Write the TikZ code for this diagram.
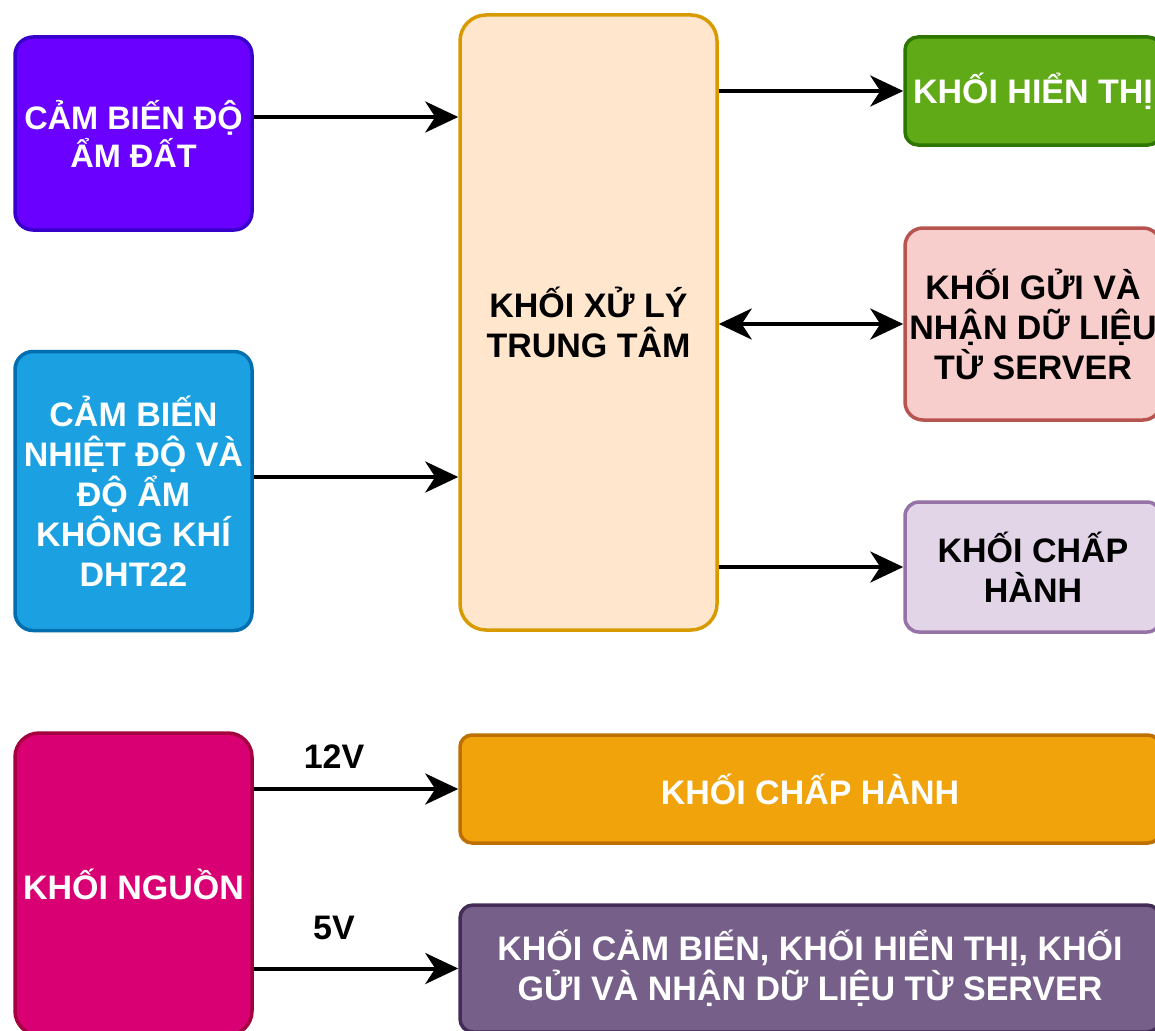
\documentclass[tikz,border=0pt]{standalone}
\usepackage{fontspec}
\setmainfont{Liberation Sans}
\usetikzlibrary{arrows.meta}

\definecolor{soilF}{HTML}{6A00FF}\definecolor{soilD}{HTML}{3700CC}
\definecolor{dhtF}{HTML}{1BA1E2}\definecolor{dhtD}{HTML}{006EAF}
\definecolor{cpuF}{HTML}{FFE6CC}\definecolor{cpuD}{HTML}{D79B00}
\definecolor{dispF}{HTML}{60A917}\definecolor{dispD}{HTML}{2D7600}
\definecolor{srvF}{HTML}{F8CECC}\definecolor{srvD}{HTML}{B85450}
\definecolor{actF}{HTML}{E1D5E7}\definecolor{actD}{HTML}{9673A6}
\definecolor{pwrF}{HTML}{D80073}\definecolor{pwrD}{HTML}{A50040}
\definecolor{orgF}{HTML}{F0A30A}\definecolor{orgD}{HTML}{BD7000}
\definecolor{plmF}{HTML}{76608A}\definecolor{plmD}{HTML}{432D57}

\tikzset{
  block/.style={draw, line width=3.5pt, rounded corners=18pt, align=center,
    inner sep=0pt, font=\fontsize{34}{40}\selectfont\bfseries},
  wtext/.style={text=white},
  btext/.style={text=black},
  arr/.style={line width=4pt, -{Stealth[length=33pt, width=31pt, inset=10pt]}},
  biarr/.style={line width=4pt, {Stealth[length=33pt, width=31pt, inset=10pt]}-{Stealth[length=33pt, width=31pt, inset=10pt]}},
  volt/.style={font=\fontsize{34}{40}\selectfont\bfseries, inner sep=0pt}
}

\begin{document}
\begin{tikzpicture}[x=1pt, y=-1pt]
  \path[use as bounding box, fill=white] (0,0) rectangle (1155,1030);
  \clip (0,0) rectangle (1155,1030);

  % inputs
  \node[block, wtext, fill=soilF, draw=soilD, minimum width=237pt, minimum height=193pt,
        font=\fontsize{32.5}{38}\selectfont\bfseries]
    (soil) at (133.5,133.5) {CẢM BIẾN ĐỘ\\ẨM ĐẤT};
  \node[block, wtext, fill=dhtF, draw=dhtD, minimum width=237pt, minimum height=279pt]
    (dht) at (133.5,491) {CẢM BIẾN\\NHIỆT ĐỘ VÀ\\ĐỘ ẨM\\KHÔNG KHÍ\\DHT22};

  % controller
  \node[block, btext, fill=cpuF, draw=cpuD, rounded corners=26pt, minimum width=257pt, minimum height=615pt]
    (cpu) at (588.5,322.5) {KHỐI XỬ LÝ\\TRUNG TÂM};

  % outputs
  \node[block, wtext, fill=dispF, draw=dispD, rounded corners=13pt, minimum width=256pt, minimum height=108pt]
    (disp) at (1033,91) {KHỐI HIỂN THỊ};
  \node[block, btext, fill=srvF, draw=srvD, minimum width=256pt, minimum height=192pt]
    (srv) at (1033,324) {KHỐI GỬI VÀ\\NHẬN DỮ LIỆU\\TỪ SERVER};
  \node[block, btext, fill=actF, draw=actD, rounded corners=14pt, minimum width=256pt, minimum height=130pt]
    (act) at (1033,567) {KHỐI CHẤP\\HÀNH};

  % power section
  \node[block, wtext, fill=pwrF, draw=pwrD, rounded corners=24pt, minimum width=237pt, minimum height=302pt]
    (pwr) at (133.5,884) {KHỐI NGUỒN};
  \node[block, wtext, fill=orgF, draw=orgD, rounded corners=12pt, minimum width=700pt, minimum height=108pt]
    (act2) at (810,789) {KHỐI CHẤP HÀNH};
  \node[block, wtext, fill=plmF, draw=plmD, rounded corners=13pt, minimum width=700pt, minimum height=127pt]
    (all) at (810,968.5) {KHỐI CẢM BIẾN, KHỐI HIỂN THỊ, KHỐI\\GỬI VÀ NHẬN DỮ LIỆU TỪ SERVER};

  % signal connections
  \draw[arr] ([yshift=16.5pt]soil.east) coordinate (s1) -- (s1 -| cpu.west);
  \draw[arr] ([yshift=14pt]dht.east) coordinate (s2) -- (s2 -| cpu.west);
  \draw[arr] (cpu.east |- disp.west) -- (disp.west);
  \draw[biarr] (cpu.east |- srv.west) -- (srv.west);
  \draw[arr] (cpu.east |- act.west) -- (act.west);

  % supply rails
  \draw[arr] (pwr.east |- act2.west) -- (act2.west);
  \draw[arr] (pwr.east |- all.west) -- (all.west);
  \node[volt] (v12) at (334,757) {12V};
  \node[volt] (v5) at (334,928) {5V};
\end{tikzpicture}
\end{document}
